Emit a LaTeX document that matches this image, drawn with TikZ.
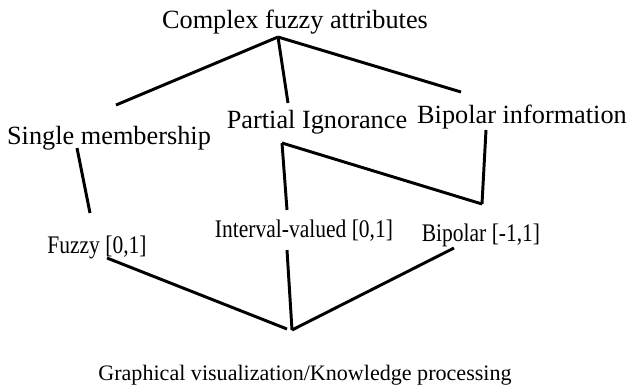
\documentclass[tikz,border=0pt]{standalone}
\usepackage{fontspec}
\setmainfont{Liberation Serif}

\begin{document}
\begin{tikzpicture}[
    x=0.025cm, y=-0.025cm,
    % --- text styles ---
    attr/.style={font=\fontsize{18.7}{22}\selectfont, inner sep=0pt},
    kind/.style={font=\fontsize{18}{21}\selectfont\addfontfeature{FakeStretch=0.85},
      inner sep=0pt},
    goal/.style={font=\fontsize{15.7}{18}\selectfont, inner sep=0pt},
    link/.style={line width=2.1pt, line cap=butt},
  ]
  \useasboundingbox (0,0) rectangle (632,384);

  % ── Top: the attribute family ──
  \node[attr] (cfa) at (295,22) {Complex fuzzy attributes};

  % ── Second row: what is represented ──
  \node[attr] (single)  at (109,138) {Single membership};
  \node[attr] (partial) at (317,122) {Partial Ignorance};
  \node[attr] (bipinfo) at (522,117) {Bipolar information};

  % ── Third row: value scales ──
  \node[kind] (fuzzy)    at (97,247)  {Fuzzy [0,1]};
  \node[kind] (interval) at (304,231) {Interval-valued [0,1]};
  \node[kind] (bipolar)  at (481,235) {Bipolar [-1,1]};

  % ── Bottom: the common target ──
  \node[goal, anchor=base] (graph) at (305,380)
    {Graphical visualization/Knowledge processing};

  % ── Junction points of the lines ──
  \coordinate (apex)   at (278,37);
  \coordinate (join)   at (292,330);
  \coordinate (pimeet) at (482,204);

  \coordinate (single-top) at (116,105);
  \coordinate (partial-top) at (288,103);
  \coordinate (bipinfo-top) at (461,92);
  \coordinate (single-bot) at (77,148);
  \coordinate (partial-bot) at (282,143);
  \coordinate (bipinfo-bot) at (486,130);
  \coordinate (fuzzy-top) at (90,213);
  \coordinate (interval-top) at (287,210);
  \coordinate (fuzzy-bot) at (107,258);
  \coordinate (fuzzy-end) at (287,329);
  \coordinate (interval-bot) at (287,250);
  \coordinate (bipolar-bot) at (454,248);

  % ── Top to second row ──
  \draw[link] (apex) -- (single-top);
  \draw[link] (apex) -- (partial-top);
  \draw[link] (apex) -- (bipinfo-top);

  % ── Second row to third row ──
  \draw[link] (single-bot) -- (fuzzy-top);
  \draw[link] (partial-bot) -- (interval-top);
  \draw[link] (partial-bot) -- (pimeet);
  \draw[link] (bipinfo-bot) -- (pimeet);

  % ── Third row to bottom ──
  \draw[link] (fuzzy-bot) -- (fuzzy-end);
  \draw[link] (interval-bot) -- (join);
  \draw[link] (bipolar-bot) -- (join);

\end{tikzpicture}
\end{document}
